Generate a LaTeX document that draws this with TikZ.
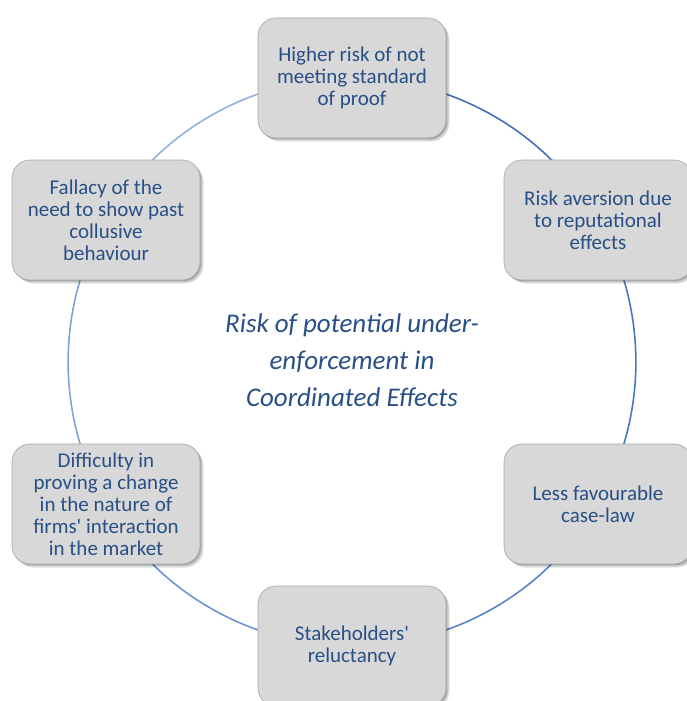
\documentclass[tikz,border=0pt]{standalone}
\usepackage{fontspec}
\setmainfont{Carlito}[Ligatures=TeXOff]
\usetikzlibrary{shadows,backgrounds}

\definecolor{txtblue}{RGB}{40,79,134}
\definecolor{boxfill}{RGB}{216,216,216}
\definecolor{boxline}{RGB}{165,165,165}
\definecolor{ringA}{RGB}{66,112,186}
\definecolor{ringB}{RGB}{72,120,192}
\definecolor{ringC}{RGB}{88,132,200}
\definecolor{ringD}{RGB}{108,148,210}
\definecolor{ringE}{RGB}{126,162,218}
\definecolor{ringF}{RGB}{146,176,224}

\tikzset{
  cyclebox/.style={draw=boxline, line width=0.6pt, fill=boxfill,
    rounded corners=18pt, minimum width=188pt, minimum height=120pt,
    inner sep=0pt, align=center, text=txtblue,
    font=\fontsize{21}{22}\selectfont,
    drop shadow={shadow xshift=3.5pt, shadow yshift=-3.5pt, opacity=0.10, fill=black},
    drop shadow={shadow xshift=2.5pt, shadow yshift=-2.5pt, opacity=0.12, fill=black},
    drop shadow={shadow xshift=1.2pt, shadow yshift=-1.2pt, opacity=0.18, fill=black}},
  ring/.style={line width=1.6pt, bend left=30, looseness=0.912},
  hub/.style={align=center, text=txtblue,
    font=\itshape\fontsize{27}{37}\selectfont}
}

\begin{document}
\begin{tikzpicture}[x=1pt,y=1pt]
  \useasboundingbox (0,0) rectangle (687,-701);

  % six stages placed on a circle of radius 284 around (352,-362)
  \node[cyclebox] (n1) at (352,-78)   {Higher risk of not\\meeting standard\\of proof};
  \node[cyclebox] (n2) at (598,-220)  {Risk aversion due\\to reputational\\effects};
  \node[cyclebox] (n3) at (598,-504)  {Less favourable\\case-law};
  \node[cyclebox] (n4) at (352,-646)  {Stakeholders'\\reluctancy};
  \node[cyclebox] (n5) at (106,-504)  {Difficulty in\\proving a change\\in the nature of\\firms' interaction\\in the market};
  \node[cyclebox] (n6) at (106,-220)  {Fallacy of the\\need to show past\\collusive\\behaviour};

  \node[hub] (hub) at (352,-360) {Risk of potential under-\\enforcement in\\Coordinated Effects};

  % ring segments, running clockwise and fading in colour
  \begin{scope}[on background layer]
    \draw[ring, ringA] (n1.center) to (n2.center);
    \draw[ring, ringB] (n2.center) to (n3.center);
    \draw[ring, ringC] (n3.center) to (n4.center);
    \draw[ring, ringD] (n4.center) to (n5.center);
    \draw[ring, ringE] (n5.center) to (n6.center);
    \draw[ring, ringF] (n6.center) to (n1.center);
  \end{scope}
\end{tikzpicture}
\end{document}
